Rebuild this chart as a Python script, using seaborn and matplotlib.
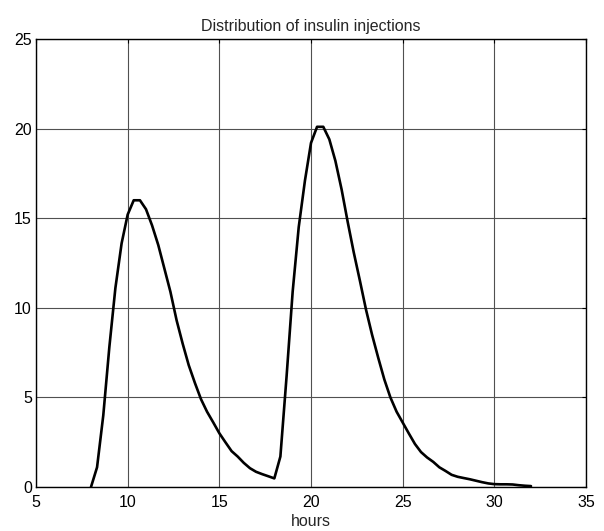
import matplotlib
matplotlib.use("Agg")
import matplotlib.pyplot as plt
import seaborn as sns
import pandas as pd

hours = [8.00, 8.33, 8.67, 9.00, 9.33, 9.67, 10.00, 10.33, 10.67, 11.00, 11.33, 11.67,
         12.00, 12.33, 12.67, 13.00, 13.33, 13.67, 14.00, 14.33, 14.67, 15.00, 15.33, 15.67,
         16.00, 16.33, 16.67, 17.00, 17.33, 17.67, 18.00, 18.33, 18.67, 19.00, 19.33, 19.67,
         20.00, 20.33, 20.67, 21.00, 21.33, 21.67, 22.00, 22.33, 22.67, 23.00, 23.33, 23.67,
         24.00, 24.33, 24.67, 25.00, 25.33, 25.67, 26.00, 26.33, 26.67, 27.00, 27.33, 27.67,
         28.00, 28.33, 28.67, 29.00, 29.33, 29.67, 30.00, 30.33, 30.67, 31.00, 31.33, 31.67,
         32.00]
injections = [0.0, 1.1, 4.0, 7.8, 11.1, 13.6, 15.2, 16.0, 16.0, 15.5, 14.6, 13.5,
              12.2, 10.9, 9.3, 8.0, 6.8, 5.8, 4.9, 4.2, 3.6, 3.0, 2.5, 2.0,
              1.7, 1.35, 1.05, 0.85, 0.72, 0.6, 0.48, 1.7, 6.2, 10.9, 14.5, 17.1,
              19.2, 20.1, 20.1, 19.4, 18.2, 16.6, 14.8, 13.1, 11.5, 9.9, 8.5, 7.2,
              6.0, 5.0, 4.2, 3.6, 3.0, 2.4, 1.95, 1.65, 1.4, 1.1, 0.9, 0.68,
              0.57, 0.5, 0.43, 0.35, 0.27, 0.2, 0.16, 0.15, 0.15, 0.14, 0.1, 0.07,
              0.05]
xticks = [5, 10, 15, 20, 25, 30, 35]
yticks = [0, 5, 10, 15, 20, 25]

sns.set_style("white")
plt.rcParams['font.family'] = ['Liberation Sans', 'DejaVu Sans']

df = pd.DataFrame({"hours": hours, "injections": injections})

fig = plt.figure(figsize=(6.04, 5.31), dpi=100)
ax = fig.add_axes([36/604, 44/531, 550/604, 448/531])
sns.lineplot(data=df, x="hours", y="injections", ax=ax, color="black",
             linewidth=1.9, sort=False, estimator=None)

ax.set_xlim(5, 35)
ax.set_ylim(0, 25)
ax.set_xticks(xticks)
ax.set_yticks(yticks)
ax.grid(True, color="#505050", linewidth=0.8, linestyle="-")
ax.set_axisbelow(True)
ax.tick_params(direction="in", length=3, width=0.8, top=True, right=True,
               labelsize=11.5, colors="black")
ax.tick_params(axis="x", pad=6)
ax.tick_params(axis="y", pad=3)
for s in ax.spines.values():
    s.set_color("black")
    s.set_linewidth(1.0)
    s.set_visible(True)
ax.set_xlabel("hours", fontsize=11.5, labelpad=3)
ax.set_ylabel("")
ax.set_title("Distribution of insulin injections", fontsize=11.5, pad=6)

fig.savefig("out.png", dpi=100)
